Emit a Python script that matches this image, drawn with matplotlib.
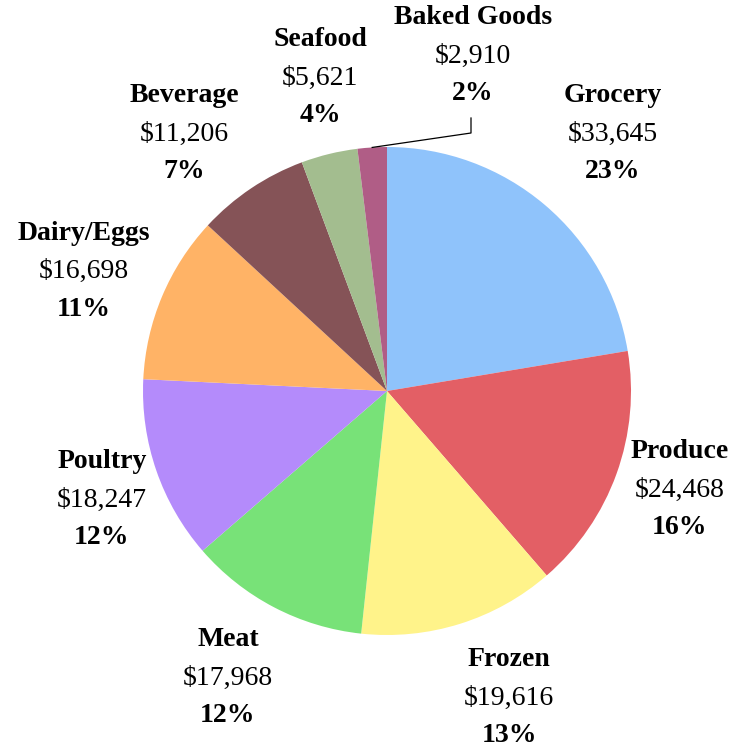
import numpy as np
import matplotlib
matplotlib.use("Agg")
import matplotlib.pyplot as plt

plt.rcParams['font.family'] = ['Liberation Serif', 'DejaVu Serif']

categories = ["Grocery", "Produce", "Frozen", "Meat", "Poultry",
              "Dairy/Eggs", "Beverage", "Seafood", "Baked Goods"]
sales = [33645, 24468, 19616, 17968, 18247, 16698, 11206, 5621, 2910]
pct_labels = ["23%", "16%", "13%", "12%", "12%", "11%", "7%", "4%", "2%"]

colors = ["#8fc3fb", "#e35f65", "#fff38a", "#78e278", "#b48bfb",
          "#ffb366", "#855357", "#a3bd8f", "#b05d86"]

# label block centres (pixel coords, y from top) - layout only
label_pos = {
    "Grocery": (613, 96), "Produce": (680, 452), "Frozen": (509, 660),
    "Meat": (228, 640), "Poultry": (102, 462), "Dairy/Eggs": (84, 233),
    "Beverage": (184, 96), "Seafood": (320, 40), "Baked Goods": (473, 18),
}

W, H = 740, 749
fig = plt.figure(figsize=(W / 100, H / 100), dpi=100)
ax = fig.add_axes([0, 0, 1, 1])

cx, cy, r = 387, H - 391, 244
wedges, _ = ax.pie(sales, colors=colors, startangle=90, counterclock=False,
                   center=(cx, cy), radius=r, frame=True,
                   wedgeprops=dict(linewidth=0))
ax.set_xlim(0, W)
ax.set_ylim(0, H)
ax.set_aspect("equal")
ax.axis("off")

fs = 20
gap = 38
for name, val, pct in zip(categories, sales, pct_labels):
    x, y = label_pos[name]
    y = H - y
    ax.text(x, y, name, ha="center", va="center", fontsize=fs, fontweight="bold")
    ax.text(x, y - gap, f"${val:,}", ha="center", va="center", fontsize=fs)
    ax.text(x, y - 2 * gap, pct, ha="center", va="center", fontsize=fs, fontweight="bold")

# leader line for the small Baked Goods slice
w = wedges[-1]
mid = np.deg2rad((w.theta1 + w.theta2) / 2)
ex, ey = cx + r * np.cos(mid), cy + r * np.sin(mid)
ax.plot([471, 471, ex], [H - 118, H - 133, ey], color="black", linewidth=0.9)

fig.savefig("out.png", dpi=100)
